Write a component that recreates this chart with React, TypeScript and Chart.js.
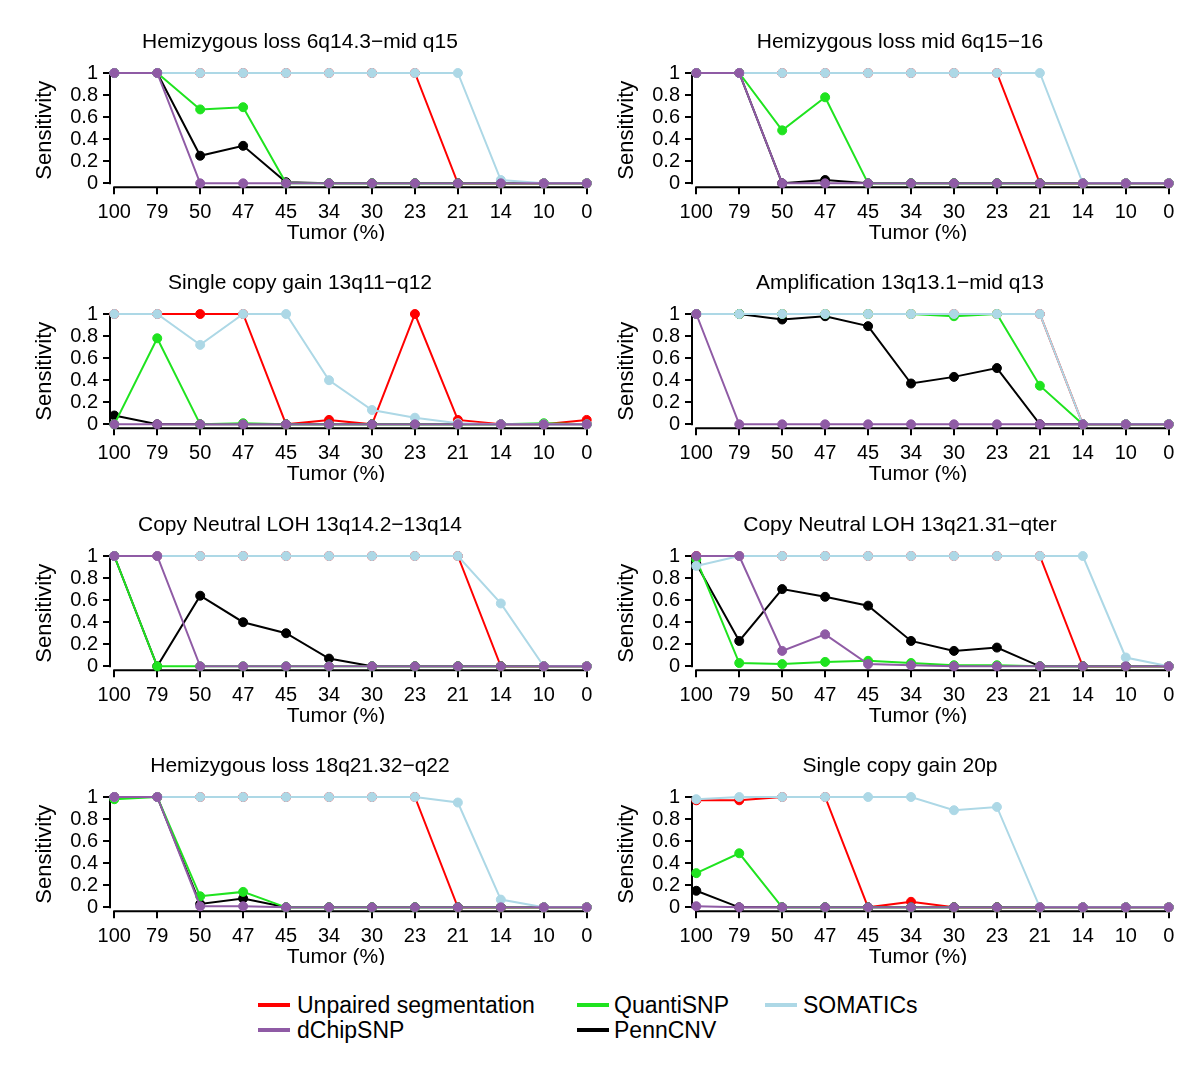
import { useEffect, useRef } from "react";
import { Chart, registerables } from "chart.js";

Chart.register(...registerables);

const FONT = '"Liberation Sans", Arial, Helvetica, sans-serif';

// ---------- shared axes ----------
const tumorLabels = ["100", "79", "50", "47", "45", "34", "30", "23", "21", "14", "10", "0"];
const sensitivityTicks = [0, 0.2, 0.4, 0.6, 0.8, 1];

// ---------- series names / colours ----------
const seriesNames = ["Unpaired segmentation", "QuantiSNP", "SOMATICs", "dChipSNP", "PennCNV"];
const seriesColors = ["#ff0000", "#1fe31f", "#add8e6", "#8f5ba5", "#000000"];

// ---------- Panel 1 ----------
const title1 = "Hemizygous loss 6q14.3\u2212mid q15";
const p1Unpaired = [1, 1, 1, 1, 1, 1, 1, 1, 0, 0, 0, 0];
const p1Quanti = [1, 1, 0.67, 0.69, 0, 0, 0, 0, 0, 0, 0, 0];
const p1Somatics = [1, 1, 1, 1, 1, 1, 1, 1, 1, 0.03, 0, 0];
const p1dChip = [1, 1, 0, 0, 0, 0, 0, 0, 0, 0, 0, 0];
const p1Penn = [1, 1, 0.25, 0.34, 0.01, 0, 0, 0, 0, 0, 0, 0];

// ---------- Panel 2 ----------
const title2 = "Hemizygous loss mid 6q15\u221216";
const p2Unpaired = [1, 1, 1, 1, 1, 1, 1, 1, 0, 0, 0, 0];
const p2Quanti = [1, 1, 0.48, 0.78, 0, 0, 0, 0, 0, 0, 0, 0];
const p2Somatics = [1, 1, 1, 1, 1, 1, 1, 1, 1, 0, 0, 0];
const p2dChip = [1, 1, 0, 0, 0, 0, 0, 0, 0, 0, 0, 0];
const p2Penn = [1, 1, 0, 0.03, 0, 0, 0, 0, 0, 0, 0, 0];

// ---------- Panel 3 ----------
const title3 = "Single copy gain 13q11\u2212q12";
const p3Unpaired = [1, 1, 1, 1, 0, 0.04, 0, 1, 0.04, 0, 0, 0.04];
const p3Quanti = [0, 0.78, 0, 0.01, 0, 0, 0, 0, 0, 0, 0.01, 0];
const p3Somatics = [1, 1, 0.72, 1, 1, 0.4, 0.13, 0.06, 0.01, 0, 0, 0];
const p3dChip = [0, 0, 0, 0, 0, 0, 0, 0, 0, 0, 0, 0];
const p3Penn = [0.08, 0, 0, 0, 0, 0, 0, 0, 0, 0, 0, 0];

// ---------- Panel 4 ----------
const title4 = "Amplification 13q13.1\u2212mid q13";
const p4Unpaired = [1, 1, 1, 1, 1, 1, 1, 1, 1, 0, 0, 0];
const p4Quanti = [1, 1, 1, 1, 1, 1, 0.98, 1, 0.35, 0, 0, 0];
const p4Somatics = [1, 1, 1, 1, 1, 1, 1, 1, 1, 0, 0, 0];
const p4dChip = [1, 0, 0, 0, 0, 0, 0, 0, 0, 0, 0, 0];
const p4Penn = [1, 1, 0.95, 0.98, 0.89, 0.37, 0.43, 0.51, 0, 0, 0, 0];

// ---------- Panel 5 ----------
const title5 = "Copy Neutral LOH 13q14.2\u221213q14";
const p5Unpaired = [1, 1, 1, 1, 1, 1, 1, 1, 1, 0, 0, 0];
const p5Quanti = [1, 0, 0, 0, 0, 0, 0, 0, 0, 0, 0, 0];
const p5Somatics = [1, 1, 1, 1, 1, 1, 1, 1, 1, 0.57, 0, 0];
const p5dChip = [1, 1, 0, 0, 0, 0, 0, 0, 0, 0, 0, 0];
const p5Penn = [1, 0, 0.64, 0.4, 0.3, 0.07, 0, 0, 0, 0, 0, 0];

// ---------- Panel 6 ----------
const title6 = "Copy Neutral LOH 13q21.31\u2212qter";
const p6Unpaired = [1, 1, 1, 1, 1, 1, 1, 1, 1, 0, 0, 0];
const p6Quanti = [0.97, 0.03, 0.02, 0.04, 0.05, 0.03, 0.01, 0.01, 0, 0, 0, 0];
const p6Somatics = [0.91, 1, 1, 1, 1, 1, 1, 1, 1, 1, 0.08, 0];
const p6dChip = [1, 1, 0.14, 0.29, 0.02, 0.01, 0, 0, 0, 0, 0, 0];
const p6Penn = [0.93, 0.23, 0.7, 0.63, 0.55, 0.23, 0.14, 0.17, 0, 0, 0, 0];

// ---------- Panel 7 ----------
const title7 = "Hemizygous loss 18q21.32\u2212q22";
const p7Unpaired = [1, 1, 1, 1, 1, 1, 1, 1, 0, 0, 0, 0];
const p7Quanti = [0.98, 1, 0.1, 0.14, 0, 0, 0, 0, 0, 0, 0, 0];
const p7Somatics = [1, 1, 1, 1, 1, 1, 1, 1, 0.95, 0.07, 0, 0];
const p7dChip = [1, 1, 0.01, 0.01, 0, 0, 0, 0, 0, 0, 0, 0];
const p7Penn = [1, 1, 0.03, 0.08, 0, 0, 0, 0, 0, 0, 0, 0];

// ---------- Panel 8 ----------
const title8 = "Single copy gain 20p";
const p8Unpaired = [0.97, 0.97, 1, 1, 0, 0.05, 0, 0, 0, 0, 0, 0];
const p8Quanti = [0.31, 0.49, 0, 0, 0, 0, 0, 0, 0, 0, 0, 0];
const p8Somatics = [0.98, 1, 1, 1, 1, 1, 0.88, 0.91, 0, 0, 0, 0];
const p8dChip = [0.01, 0, 0, 0, 0, 0, 0, 0, 0, 0, 0, 0];
const p8Penn = [0.15, 0, 0, 0, 0, 0, 0, 0, 0, 0, 0, 0];

type Panel = { title: string; series: number[][] }; // series in seriesNames order

const panels: Panel[] = [
  { title: title1, series: [p1Unpaired, p1Quanti, p1Somatics, p1dChip, p1Penn] },
  { title: title2, series: [p2Unpaired, p2Quanti, p2Somatics, p2dChip, p2Penn] },
  { title: title3, series: [p3Unpaired, p3Quanti, p3Somatics, p3dChip, p3Penn] },
  { title: title4, series: [p4Unpaired, p4Quanti, p4Somatics, p4dChip, p4Penn] },
  { title: title5, series: [p5Unpaired, p5Quanti, p5Somatics, p5dChip, p5Penn] },
  { title: title6, series: [p6Unpaired, p6Quanti, p6Somatics, p6dChip, p6Penn] },
  { title: title7, series: [p7Unpaired, p7Quanti, p7Somatics, p7dChip, p7Penn] },
  { title: title8, series: [p8Unpaired, p8Quanti, p8Somatics, p8dChip, p8Penn] },
];

// dataset index 0 is drawn on top in Chart.js
const drawOrder = [3, 2, 1, 4, 0];

// ---------- layout ----------
const CANVAS_W = 600;
const CANVAS_H = 241;
const colLeft = [0, 582];
const rowTop = [0, 241, 483, 724];
const titleCenterX = [300, 318];

const rPlugin = {
  id: "rAxes",
  beforeDatasetsDraw(chart: any) {
    const { ctx, chartArea, scales } = chart;
    const xs = scales.x;
    const ys = scales.y;
    ctx.save();
    ctx.strokeStyle = "#000";
    ctx.lineWidth = 2;
    ctx.beginPath();
    ctx.moveTo(chartArea.left, ys.getPixelForValue(1) - 1);
    ctx.lineTo(chartArea.left, ys.getPixelForValue(0) + 1);
    ctx.moveTo(xs.getPixelForValue(0) - 1, chartArea.bottom);
    ctx.lineTo(xs.getPixelForValue(tumorLabels.length - 1) + 1, chartArea.bottom);
    ctx.stroke();
    ctx.restore();
  },
  afterDraw(chart: any, _a: any, opts: any) {
    const { ctx, chartArea } = chart;
    ctx.save();
    ctx.fillStyle = "#000";
    ctx.textAlign = "center";
    ctx.textBaseline = "middle";
    ctx.font = `21px ${FONT}`;
    ctx.fillText(opts.title, opts.titleX, chartArea.top - 31);
    ctx.fillText("Tumor (%)", chartArea.left + 226, chartArea.bottom + 46);
    ctx.restore();
  },
};

function PanelChart({ panel, col, row }: { panel: Panel; col: number; row: number }) {
  const ref = useRef<HTMLCanvasElement | null>(null);
  useEffect(() => {
    if (!ref.current) return;
    const datasets = drawOrder.map((si) => ({
      label: seriesNames[si],
      data: panel.series[si].map((v, i) => ({ x: i, y: v })),
      borderColor: seriesColors[si],
      backgroundColor: seriesColors[si],
      pointBackgroundColor: seriesColors[si],
      pointBorderColor: seriesColors[si],
      pointRadius: 4.5,
      pointBorderWidth: 1,
      borderWidth: 2,
      tension: 0,
      fill: false,
      clip: false as any,
    }));
    const tickGrid = {
      display: true,
      drawOnChartArea: false,
      drawTicks: true,
      tickLength: 7,
      tickColor: "#000",
      tickWidth: 2,
      color: "#000",
      lineWidth: 2,
    };
    const chart = new Chart(ref.current, {
      type: "line",
      data: { datasets },
      plugins: [rPlugin as any],
      options: {
        animation: false,
        responsive: false,
        maintainAspectRatio: false,
        events: [],
        layout: { padding: { top: 73, right: 9, left: 0, bottom: 0 } },
        plugins: {
          legend: { display: false },
          tooltip: { enabled: false },
          title: { display: false },
          rAxes: { title: panel.title, titleX: titleCenterX[col] },
        } as any,
        scales: {
          x: {
            type: "linear",
            min: -0.1,
            max: tumorLabels.length - 1 + 0.1,
            afterBuildTicks: (s: any) => {
              s.ticks = tumorLabels.map((_, i) => ({ value: i }));
            },
            afterFit: (s: any) => {
              s.height = CANVAS_H - 187.3;
            },
            ticks: {
              autoSkip: false,
              maxRotation: 0,
              padding: 6,
              color: "#000",
              font: { size: 20, family: FONT },
              callback: (v: any) => tumorLabels[Math.round(Number(v))],
            },
            grid: tickGrid as any,
            border: { display: false },
          },
          y: {
            type: "linear",
            min: -0.036,
            max: 1,
            afterBuildTicks: (s: any) => {
              s.ticks = sensitivityTicks.map((v) => ({ value: v }));
            },
            afterFit: (s: any) => {
              s.width = 110;
            },
            ticks: {
              autoSkip: false,
              padding: 5,
              color: "#000",
              font: { size: 20, family: FONT },
              callback: (v: any) => String(Math.round(Number(v) * 10) / 10),
            },
            title: {
              display: true,
              text: "Sensitivity",
              color: "#000",
              font: { size: 22, family: FONT },
              padding: { top: 32, bottom: 0 },
            },
            grid: tickGrid as any,
            border: { display: false },
          },
        },
      } as any,
    });
    return () => chart.destroy();
  }, [panel, col, row]);
  return (
    <canvas
      ref={ref}
      width={CANVAS_W}
      height={CANVAS_H}
      style={{
        position: "absolute",
        left: colLeft[col],
        top: rowTop[row],
        width: CANVAS_W,
        height: CANVAS_H,
      }}
    />
  );
}

const legendItems = [
  { si: 0, swatchX: 258, textX: 297, y: 1005 },
  { si: 1, swatchX: 577, textX: 614, y: 1005 },
  { si: 2, swatchX: 765, textX: 803, y: 1005 },
  { si: 3, swatchX: 258, textX: 297, y: 1030 },
  { si: 4, swatchX: 577, textX: 614, y: 1030 },
];

export default function App() {
  return (
    <div
      style={{
        position: "absolute",
        left: 0,
        top: 0,
        width: 1200,
        height: 1071,
        background: "#fff",
        overflow: "hidden",
        fontFamily: FONT,
      }}
    >
      {panels.map((p, i) => (
        <PanelChart key={i} panel={p} col={i % 2} row={Math.floor(i / 2)} />
      ))}
      {legendItems.map((it) => (
        <div key={it.si}>
          <div
            style={{
              position: "absolute",
              left: it.swatchX,
              top: it.y - 2,
              width: 32,
              height: 4,
              background: seriesColors[it.si],
            }}
          />
          <div
            style={{
              position: "absolute",
              left: it.textX,
              top: it.y - 13,
              height: 26,
              lineHeight: "26px",
              fontSize: 23,
              color: "#000",
              whiteSpace: "nowrap",
            }}
          >
            {seriesNames[it.si]}
          </div>
        </div>
      ))}
    </div>
  );
}
